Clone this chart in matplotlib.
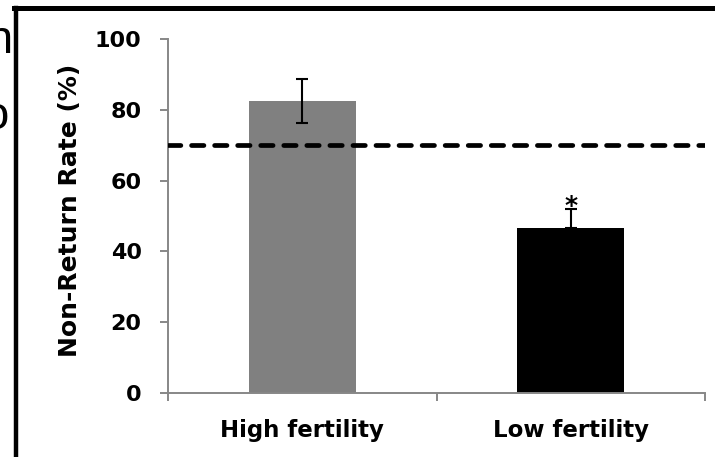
import matplotlib
matplotlib.use("Agg")
import matplotlib.pyplot as plt
from matplotlib.lines import Line2D

# Data
groups = ["High fertility", "Low fertility"]
rates = [82.6, 46.5]
err_lower = [6.2, 0.0]
err_upper = [6.2, 5.5]
bar_colors = ["#808080", "#000000"]
reference_rate = 70
significant = [False, True]
yticks = [0, 20, 40, 60, 80, 100]

plt.rcParams["font.family"] = ["DejaVu Sans"]
plt.rcParams["font.weight"] = "bold"
plt.rcParams["lines.scale_dashes"] = False

W, H = 715, 457
fig = plt.figure(figsize=(W / 100, H / 100), dpi=100)
ax = fig.add_axes([168 / W, 1 - 393 / H, (705 - 168) / W, (393 - 39) / H])

x = list(range(len(groups)))
ax.bar(x, rates, width=0.4, color=bar_colors, zorder=2)

# Error bars: two-sided ones sit over the bar, one-sided ones tuck behind it
for xi, r, el, eu in zip(x, rates, err_lower, err_upper):
    ax.errorbar([xi], [r], yerr=[[el], [eu]], fmt="none", ecolor="black",
                elinewidth=1.5, capsize=4.5, capthick=1.5,
                zorder=3 if el > 0 else 1.5)

for xi, r, eu, sig in zip(x, rates, err_upper, significant):
    if sig:
        ax.text(xi, r + eu - 2.6, "*", ha="center", va="bottom",
                fontsize=18, fontweight="bold", zorder=4)

# Reference line
ax.axhline(reference_rate, color="black", linewidth=3.4,
           dashes=(8.9, 7.7), dash_capstyle="round", zorder=4)

ax.set_xlim(-0.5, len(groups) - 0.5)
ax.set_ylim(0, 100)
ax.set_yticks(yticks)
ax.set_xticks(x)
ax.set_xticklabels(groups, fontsize=16.5, fontweight="bold")
ax.set_xticks([i - 0.5 for i in range(len(groups) + 1)], minor=True)

spine_color = "#878787"
for side in ["top", "right"]:
    ax.spines[side].set_visible(False)
for side in ["left", "bottom"]:
    ax.spines[side].set_color(spine_color)
    ax.spines[side].set_linewidth(1.4)

ax.tick_params(axis="x", which="major", length=0, pad=19)
ax.tick_params(axis="x", which="minor", length=6, width=1.4,
               color=spine_color, direction="out")
ax.tick_params(axis="y", length=6, width=1.4, color=spine_color,
               direction="out", pad=13, labelsize=16)
for lab in ax.get_yticklabels():
    lab.set_fontweight("bold")

ax.set_ylabel("Non-Return Rate (%)", fontsize=18, fontweight="bold")
ax.yaxis.set_label_coords((70 - 168) / (705 - 168), (393 - 210) / (393 - 39))
ax.yaxis.label.set_verticalalignment("center")

# Slide frame and clipped neighbouring text
fig.add_artist(Line2D([14 / W, 1], [1 - 7.5 / H, 1 - 7.5 / H],
                      transform=fig.transFigure, color="black", linewidth=3.6,
                      solid_capstyle="projecting"))
fig.add_artist(Line2D([16 / W, 16 / W], [1 - 7.5 / H, 0],
                      transform=fig.transFigure, color="black", linewidth=3.2,
                      solid_capstyle="projecting"))
fig.text(13 / W, 1 - 53 / H, "n", ha="right", va="baseline",
         fontsize=34, fontweight="normal", family="Liberation Sans")
fig.text(9 / W, 1 - 129 / H, "o", ha="right", va="baseline",
         fontsize=34, fontweight="normal", family="Liberation Sans")

fig.savefig("out.png", dpi=100)
